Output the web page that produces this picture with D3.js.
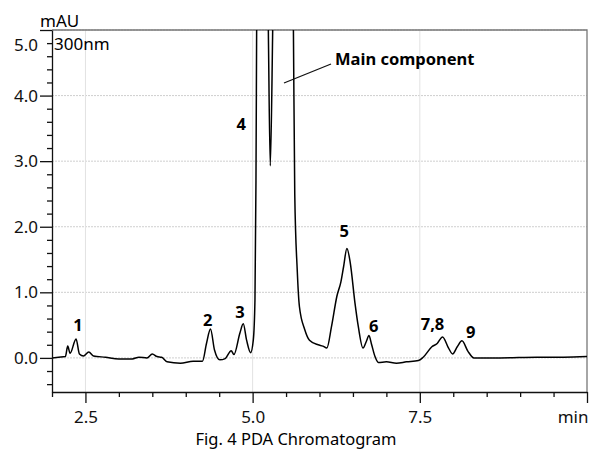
<!DOCTYPE html>
<html>
<head>
<meta charset="utf-8">
<script src="https://cdn.jsdelivr.net/npm/d3@7"></script>
<style>
  body { margin: 0; background: #fff; }
  svg { display: block; font-family: "Noto Sans", sans-serif; }
</style>
</head>
<body>
<div id="chart"></div>
<script>
// PDA chromatogram, 300 nm

// retention time (min) and absorbance (mAU)
const times = [2.00, 2.10, 2.20, 2.235, 2.27, 2.36, 2.41, 2.47, 2.55, 2.62, 2.80, 3.00, 3.20, 3.30, 3.42, 3.50, 3.57, 3.64, 3.72, 3.92,
    4.11, 4.25, 4.31, 4.37, 4.43, 4.51, 4.59, 4.68, 4.72, 4.81, 4.86, 4.91, 4.97, 5.01, 5.035, 5.05, 5.06, 5.10, 5.20, 5.235,
    5.264, 5.30, 5.40, 5.55, 5.61, 5.63, 5.667, 5.70, 5.78, 5.85, 5.98, 6.05, 6.11, 6.18, 6.26, 6.32, 6.36, 6.41, 6.46, 6.53,
    6.58, 6.65, 6.70, 6.74, 6.78, 6.83, 6.88, 7.00, 7.15, 7.30, 7.48, 7.55, 7.68, 7.76, 7.84, 7.93, 7.99, 8.06, 8.13, 8.22,
    8.31, 8.70, 9.25, 9.65, 10.0];
const absorbance = [0.00, 0.01, 0.02, 0.18, 0.07, 0.29, 0.06, 0.03, 0.09, 0.03, 0.01, -0.015, -0.015, 0.01, 0.00, 0.06, 0.02, 0.01, -0.06, -0.08,
    -0.05, -0.05, 0.22, 0.44, 0.12, -0.03, -0.01, 0.11, 0.05, 0.38, 0.52, 0.27, 0.08, 0.27, 0.89, 2.7, 5.0, 12, 8, 5.0,
    2.93, 5.0, 15, 10, 5.0, 2.5, 1.34, 0.78, 0.43, 0.27, 0.20, 0.18, 0.15, 0.48, 0.94, 1.16, 1.39, 1.67, 1.45, 0.84,
    0.48, 0.15, 0.25, 0.34, 0.20, 0.02, -0.07, -0.06, -0.08, -0.06, -0.04, 0.01, 0.17, 0.22, 0.32, 0.15, 0.06, 0.17, 0.26, 0.10,
    0.00, 0.00, 0.01, 0.01, 0.02];

// peak numbers and where they sit (time, mAU of label baseline)
const peakNames = ["1", "2", "3", "4", "5", "6", "7,8", "9"];
const peakTimes = [2.39, 4.33, 4.81, 4.83, 6.37, 6.81, 7.69, 8.26];
const peakLabelY = [0.41, 0.49, 0.61, 3.48, 1.85, 0.4, 0.43, 0.31];

const xMajor = [2.5, 5.0, 7.5, 10];
const yMajor = [0, 1, 2, 3, 4, 5];

const W = 590, H = 450;
const margin = { top: 30, right: 3, bottom: 58, left: 52 };

const svg = d3.select("#chart").append("svg")
    .attr("width", W)
    .attr("height", H);

const x = d3.scaleLinear().domain([2, 10]).range([margin.left, W - margin.right]);
const y = d3.scaleLinear().domain([-0.52, 5]).range([H - margin.bottom, margin.top]);

// grid
svg.append("g").selectAll("line")
    .data(yMajor)
    .join("line")
    .attr("x1", x(2)).attr("x2", x(10))
    .attr("y1", d => y(d)).attr("y2", d => y(d))
    .attr("stroke", "#cfcfcf")
    .attr("stroke-dasharray", "2,1");

svg.append("g").selectAll("line")
    .data(xMajor.slice(0, 3))
    .join("line")
    .attr("x1", d => x(d)).attr("x2", d => x(d))
    .attr("y1", y(5)).attr("y2", y(-0.52))
    .attr("stroke", "#e2e2e2");

// frame top / right
svg.append("path")
    .attr("d", `M${x(2)},${y(5)}H${x(10)}V${y(-0.52)}`)
    .attr("fill", "none")
    .attr("stroke", "#777")
    .attr("stroke-width", 1.3);

// clip the trace to the plot area
svg.append("clipPath").attr("id", "plot")
    .append("rect")
    .attr("x", x(2)).attr("y", y(5))
    .attr("width", x(10) - x(2)).attr("height", y(-0.52) - y(5));

const line = d3.line()
    .x(i => x(times[i]))
    .y(i => y(absorbance[i]))
    .curve(d3.curveMonotoneX);

svg.append("path")
    .attr("clip-path", "url(#plot)")
    .attr("d", line(d3.range(times.length)))
    .attr("fill", "none")
    .attr("stroke", "#000")
    .attr("stroke-width", 1.5);

// axes
const minorX = d3.range(2, 10.001, 0.5).filter(d => !xMajor.includes(d));
const minorY = d3.range(-2, 26).map(d => d / 5).filter(d => !Number.isInteger(d));

const xAxis = svg.append("g")
    .attr("transform", `translate(0,${y(-0.52)})`)
    .call(d3.axisBottom(x).tickValues(xMajor).tickSize(11).tickSizeOuter(0).tickPadding(8)
        .tickFormat(d => d === 10 ? "min" : d3.format(".1f")(d)));
xAxis.append("g").call(d3.axisBottom(x).tickValues(minorX).tickSize(5).tickFormat(""))
    .select(".domain").remove();

const yAxis = svg.append("g")
    .attr("transform", `translate(${x(2)},0)`)
    .call(d3.axisLeft(y).tickValues(yMajor).tickSize(12).tickSizeOuter(0).tickPadding(2)
        .tickFormat(d3.format(".1f")));
yAxis.append("g").call(d3.axisLeft(y).tickValues(minorY).tickSize(5).tickFormat(""))
    .select(".domain").remove();

svg.selectAll(".tick line, .domain").attr("stroke", "#111").attr("stroke-width", 1.3);
svg.selectAll(".tick text").attr("font-size", 17).attr("fill", "#111")
    .attr("font-family", "'Noto Sans', sans-serif");

// "min" sits flush with the axis end, the top label sits below the frame
xAxis.selectAll(".tick text").filter(d => d === 10).attr("text-anchor", "end").attr("x", 1);
yAxis.selectAll(".tick text").filter(d => d === 5).attr("dy", "1.2em");

// units / wavelength
svg.append("text")
    .attr("x", 40).attr("y", 27)
    .attr("font-size", 17)
    .text("mAU");

svg.append("text")
    .attr("x", 54).attr("y", 50)
    .attr("font-size", 17)
    .text("300nm");

// peak numbers
svg.append("g").selectAll("text")
    .data(peakNames)
    .join("text")
    .attr("x", (d, i) => x(peakTimes[i]))
    .attr("y", (d, i) => y(peakLabelY[i]))
    .attr("text-anchor", "middle")
    .attr("font-size", 16.5)
    .attr("font-weight", "bold")
    .text(d => d);

// main component callout
svg.append("line")
    .attr("x1", 284).attr("y1", 83)
    .attr("x2", 331).attr("y2", 64)
    .attr("stroke", "#111")
    .attr("stroke-width", 1.3);

svg.append("text")
    .attr("x", 335).attr("y", 65)
    .attr("font-size", 16.5)
    .attr("font-weight", "bold")
    .text("Main component");

// caption
svg.append("text")
    .attr("x", 296).attr("y", 445)
    .attr("text-anchor", "middle")
    .attr("font-size", 16.5)
    .text("Fig. 4 PDA Chromatogram");
</script>
</body>
</html>
